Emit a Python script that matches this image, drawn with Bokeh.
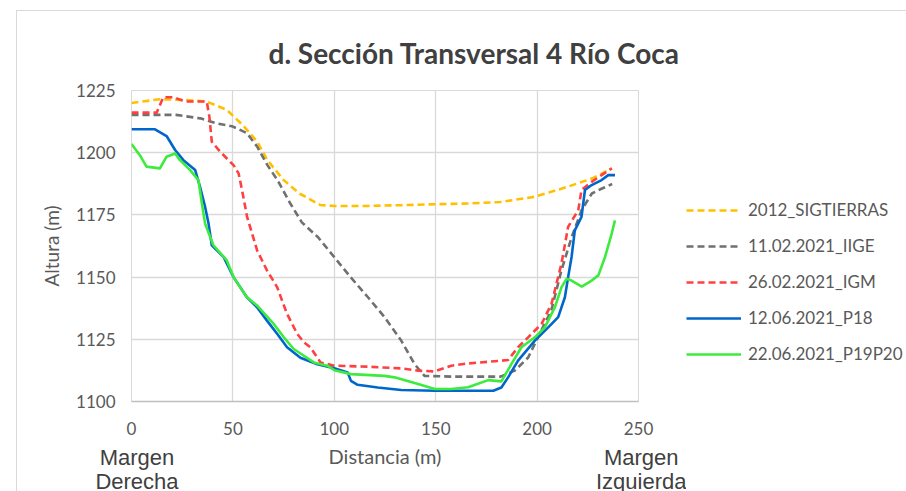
from bokeh.plotting import figure
from bokeh.models import Legend, LegendItem, FixedTicker, Range1d, LinearAxis
from bokeh.layouts import row
from bokeh.embed import file_html
from bokeh.resources import INLINE

# ---- data ----
x_ticks = [0, 50, 100, 150, 200, 250]
y_ticks = [1100, 1125, 1150, 1175, 1200, 1225]

sig_x = [0, 14, 27, 37, 47, 55, 62, 67, 75, 83, 93, 100, 116, 133, 150, 166, 182, 199, 215, 227, 237]
sig_y = [1220, 1221.5, 1221.2, 1220.6, 1217.2, 1211, 1204.4, 1197, 1189, 1183.5, 1179, 1178.6, 1178.6,
         1178.9, 1179.3, 1179.6, 1180.2, 1182.3, 1186.3, 1189.6, 1193.7]

iige_x = [0, 22, 34, 42, 50, 57, 62, 67, 72, 78, 84, 92, 100, 108, 116.5, 124.7, 133, 139.6, 144.5, 158,
          182, 189, 195.6, 202, 207, 212, 217, 222, 227, 232, 237]
iige_y = [1215.2, 1215.2, 1213.8, 1211.8, 1210.5, 1207.8, 1202.4, 1195, 1189, 1180, 1172, 1166, 1158, 1150,
          1142, 1134, 1124.5, 1115, 1110.3, 1110, 1110, 1112.4, 1117.7, 1128.5, 1136.6, 1152.7, 1166, 1177,
          1183.6, 1185.6, 1187.4]

igm_x = [0, 12.4, 15.7, 20.6, 26.4, 37.1, 38.4, 39.6, 43.7, 50.3, 52.8, 54.5, 57, 61.9, 66.8, 71.8, 76.7,
         81.7, 85, 88.2, 93.2, 100, 116.5, 133, 141.3, 149.5, 157.7, 166, 182.4, 185.7, 190.6, 195.6, 202.2,
         207.1, 212, 215.3, 220.3, 221.9, 226.9, 231.8, 236.8]
igm_y = [1216.1, 1216.1, 1222.3, 1222.3, 1220.6, 1220.6, 1214.5, 1204.4, 1200.4, 1195, 1191.7, 1185, 1174.2,
         1160.8, 1152.7, 1146, 1135.2, 1127.2, 1123.8, 1121.8, 1115.7, 1114.4, 1114, 1113.3, 1112.4, 1112.1,
         1114.4, 1115.3, 1116.4, 1116.7, 1121.8, 1125.8, 1131.2, 1139.2, 1155.4, 1170.2, 1176.9, 1185, 1188.3,
         1191, 1193.7]

p18_x = [0, 11.6, 17.3, 21.5, 25.6, 31.4, 33.8, 36.3, 38, 39.6, 45.4, 50.3, 56.9, 61.9, 66.8, 71.8, 76.7,
         83.3, 91.6, 100, 106.6, 108.2, 111.5, 121.4, 133, 149.5, 166, 178.4, 182.4, 185.7, 190.6, 198.9,
         205.5, 210.4, 213.7, 215.3, 217, 218.6, 221.9, 223.6, 226.9, 231.8, 235.1, 238.4]
p18_y = [1209.4, 1209.4, 1206.7, 1201.1, 1197, 1193, 1186.3, 1178.2, 1171.5, 1162.8, 1158.1, 1150, 1141.9,
         1137.9, 1132.5, 1127.2, 1121.8, 1117.6, 1115, 1113.4, 1111.7, 1108.3, 1106.7, 1105.6, 1104.6, 1104.3,
         1104.3, 1104.3, 1105.6, 1109.7, 1116.4, 1124.5, 1129.8, 1133.9, 1141.9, 1150, 1158.1, 1168.8, 1174.2,
         1185, 1187, 1189, 1191, 1191]

p1920_x = [0, 4.1, 7.4, 14, 17.3, 21.5, 23.9, 28.9, 33, 34.7, 36.3, 38.8, 40.4, 47, 50.3, 56.9, 61.9, 70.1,
           75.1, 80, 85, 89.9, 96.5, 100, 108.2, 124.7, 129.7, 141.3, 149.5, 157.7, 166, 175.9, 182.4, 187.3,
           192.3, 198.9, 203.8, 208.8, 212, 214.5, 217, 222, 226.9, 230.2, 233.5, 236.8, 238.4]
p1920_y = [1203.5, 1199, 1194.4, 1193.7, 1198.4, 1199.7, 1197, 1193, 1189, 1179.6, 1171.5, 1166.1, 1162.8,
           1156.7, 1150, 1141.9, 1138.6, 1131.2, 1125.8, 1121.1, 1118.4, 1115.7, 1114.4, 1112.6, 1111, 1110.3,
           1109.7, 1107, 1105, 1105, 1105.7, 1108.6, 1108.1, 1115, 1121.8, 1125.8, 1129.8, 1137.9, 1145.9,
           1149.3, 1148.6, 1146.2, 1148.6, 1150.7, 1158.1, 1167.5, 1172.8]

labels = ["2012_SIGTIERRAS", "11.02.2021_IIGE", "26.02.2021_IGM", "12.06.2021_P18", "22.06.2021_P19P20"]
colors = ["#FFC000", "#707070", "#FF4040", "#0066CC", "#3DEB3D"]
dashes = ["7 4", "7 4", "7 4", "solid", "solid"]
title_text = "d. Sección Transversal 4 Río Coca"
x_title = "Distancia (m)"
y_title = "Altura (m)"
bank_ticks = [2.7, 250]
NB = "\u00a0" * 2
bank_labels = {2.7: "Margen\nDerecha", 250: NB + "Margen\n" + NB + "Izquierda"}

FONT = "Lato"
TXT = "#595959"
DARK = "#404040"

# ---- geometry (pixels) ----
OX, OY = 17, 11             # canvas origin on the page (after margin + 1px border)
FRAME_L, FRAME_T = 131, 90  # frame top-left on the page
FRAME_W, FRAME_H = 507, 311
LEG_L = 686                 # page x where the legend begins
H = 491 - OY
W1 = LEG_L - OX
W2 = 906 - LEG_L
B_TOP = FRAME_T - OY
B_BOT = H - B_TOP - FRAME_H

p = figure(width=W1, height=H, output_backend="svg", toolbar_location=None,
           x_range=Range1d(0, 250), y_range=Range1d(1100, 1225),
           min_border_left=FRAME_L - OX, min_border_right=W1 - (FRAME_L - OX) - FRAME_W,
           min_border_top=B_TOP, min_border_bottom=B_BOT, title=title_text)
p.background_fill_color = "white"
p.border_fill_color = "white"
p.outline_line_color = "#d9d9d9"

p.title.text_font = FONT
p.title.text_font_size = "28px"
p.title.text_font_style = "bold"
p.title.text_color = DARK
p.title.align = "left"
p.title.offset = 137
p.title.standoff = 42

for ax in (p.xaxis[0], p.yaxis[0]):
    ax.major_tick_line_color = None
    ax.minor_tick_line_color = None
    ax.major_label_text_font = FONT
    ax.major_label_text_font_size = "17px"
    ax.major_label_text_color = TXT
p.xaxis[0].ticker = FixedTicker(ticks=x_ticks)
p.yaxis[0].ticker = FixedTicker(ticks=y_ticks)
p.xaxis[0].axis_line_color = "#bfbfbf"
p.xaxis[0].axis_line_width = 1.5
p.yaxis[0].axis_line_color = None
p.xaxis[0].major_label_standoff = 14
p.yaxis[0].major_label_standoff = 10
p.yaxis[0].axis_label = y_title
p.yaxis[0].axis_label_text_font = FONT
p.yaxis[0].axis_label_text_font_size = "19px"
p.yaxis[0].axis_label_text_font_style = "normal"
p.yaxis[0].axis_label_text_color = TXT
p.yaxis[0].axis_label_standoff = 10
p.xgrid.grid_line_color = "#d9d9d9"
p.ygrid.grid_line_color = "#d9d9d9"
p.xgrid.grid_line_width = 1.3
p.ygrid.grid_line_width = 1.3

# second bottom axis: river-bank labels and the x title
bank_axis = LinearAxis(ticker=FixedTicker(ticks=bank_ticks), major_label_overrides=bank_labels,
                       axis_line_color=None, major_tick_line_color=None, minor_tick_line_color=None,
                       major_label_standoff=1, major_label_text_font="Liberation Sans",
                       major_label_text_font_size="22px", major_label_text_color=DARK,
                       major_label_text_line_height=0.98,
                       axis_label=x_title, axis_label_text_font=FONT, axis_label_text_font_size="20px",
                       axis_label_text_font_style="normal", axis_label_text_color=TXT,
                       axis_label_standoff=-53)
p.add_layout(bank_axis, "below")

series = [(sig_x, sig_y), (iige_x, iige_y), (igm_x, igm_y), (p18_x, p18_y), (p1920_x, p1920_y)]
for (xs, ys), col, dash in zip(series, colors, dashes):
    p.line(xs, ys, line_color=col, line_width=2.6, line_dash=dash, line_join="round")

# ---- legend panel (separate canvas to the right of the chart) ----
# its ranges keep the series out of view, so only the legend samples are drawn
q = figure(width=W2, height=H, output_backend="svg", toolbar_location=None,
           x_range=Range1d(0, 1), y_range=Range1d(0, 1), x_axis_type=None, y_axis_type=None,
           min_border_left=0, min_border_right=0, min_border_top=B_TOP, min_border_bottom=B_BOT)
q.grid.visible = False
q.outline_line_color = None
q.background_fill_color = "white"
q.border_fill_color = "white"
items = []
for (xs, ys), lab, col, dash in zip(series, labels, colors, dashes):
    r = q.line(xs, ys, line_color=col, line_width=2.6, line_dash=dash)
    items.append(LegendItem(label=lab, renderers=[r]))
legend = Legend(items=items, location=(0, 37), glyph_width=55, glyph_height=20, label_height=20,
                spacing=15, padding=0, margin=0, label_standoff=7, border_line_color=None,
                background_fill_alpha=0, label_text_font=FONT, label_text_font_size="17px",
                label_text_color=TXT)
q.add_layout(legend, "center")

layout = row(p, q, margin=(OY - 1, 0, 0, OX - 1),
             styles={"border-left": "1px solid #d9d9d9", "border-top": "1px solid #d9d9d9"})

open("out.html", "w").write(file_html(layout, INLINE))
